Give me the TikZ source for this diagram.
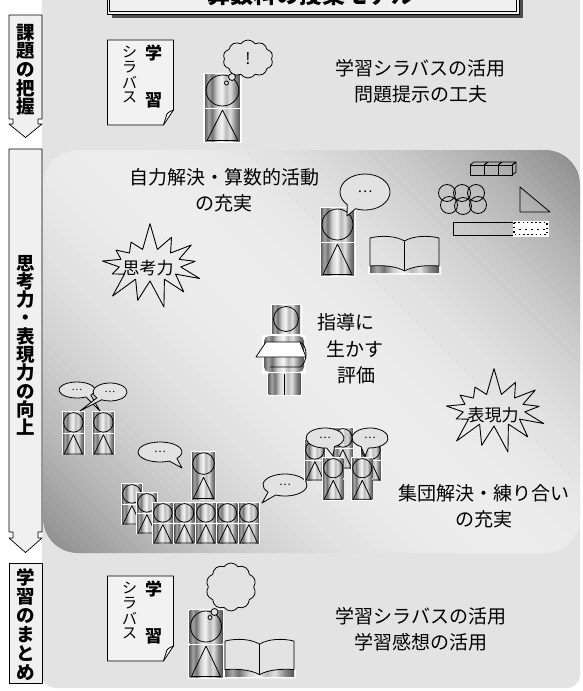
\documentclass[tikz,border=0pt]{standalone}
\usepackage{fontspec}
\newfontfamily\jp{Noto Sans CJK JP}
\usetikzlibrary{shapes.symbols,calc}

\definecolor{panel}{HTML}{E3E3E3}
\definecolor{boxfill}{HTML}{F0F0F0}
\definecolor{bubblefill}{HTML}{E2E2E2}

% metallic vertical stripes used for the figures
\pgfdeclarehorizontalshading{metal}{100bp}{color(0bp)=(black!62); color(25bp)=(black!62); color(30bp)=(black!35); color(35bp)=(black!55); color(42bp)=(black!18); color(49bp)=(black!4); color(55bp)=(black!28); color(61bp)=(black!12); color(68bp)=(black!45); color(75bp)=(black!68); color(100bp)=(black!68)}

\tikzset{
  ln/.style={line width=0.8pt},
  vch/.style={font=\jp\bfseries\fontsize{18.5}{18.5}\selectfont, inner sep=0, text height=15pt, text depth=1pt},
  dsmall/.style={font=\jp\fontsize{15}{15}\selectfont, inner sep=0},
  dbig/.style={font=\jp\bfseries\fontsize{17}{17}\selectfont, inner sep=0},
  lbl/.style={font=\jp\fontsize{19}{26}\selectfont, align=center, inner sep=0},
  burst/.style={starburst, starburst points=13, starburst point height=28pt, random starburst=7, draw, line width=0.9pt, inner sep=0pt},
  burstlbl/.style={font=\jp\fontsize{17}{17}\selectfont, inner sep=0},
  thought/.style={cloud, cloud puffs=10, cloud puff arc=110, aspect=1.3, draw, line width=0.8pt, fill=panel, inner sep=0},
  bub/.style={draw, line width=0.8pt, fill=bubblefill},
  arrowbox/.style={draw, line width=0.7pt, fill=boxfill},
  student/.pic={
    \fill[white] (-1.5,-1.5) rectangle (34.5,69);
    \shade[shading=metal] (0,0) rectangle (33,33);
    \shade[shading=metal] (0,35) rectangle (33,67.5);
    \draw[ln] (16.5,16.5) circle[radius=15.5];
    \draw[ln] (16.5,36) -- (2,66.5) -- (31,66.5) -- cycle;
  },
  teacher/.pic={
    \fill[white] (14.5,-1.5) rectangle (45.5,29.5);
    \shade[shading=metal] (16,0) rectangle (44,28);
    \draw[ln] (30,14) circle[radius=12.5];
    \fill[white] (6,29.5) rectangle (50,68.5);
    \shade[shading=metal, rounded corners=5] (8,31) rectangle (48,67);
    \draw[ln, fill=white] (0,52) -- (10,37) -- (44,37) -- (50,52) -- cycle;
    \draw[ln] (44,37) .. controls (52,40) and (52,58) .. (44,62) -- (14,62);
    \fill[white] (11,67) rectangle (46,91);
    \shade[shading=metal] (12.5,68.5) rectangle (44.5,89.5);
    \draw[ln] (28.5,68.5) -- (28.5,89.5);
  },
  book/.pic={
    \fill[white] (-2,31) -- (0,31) .. controls (12,30) and (26,31) .. (34.5,36)
      .. controls (43,31) and (57,30) .. (69,31) -- (71,31) -- (71,39.5) -- (-2,39.5) -- cycle;
    \shade[shading=metal] (0,31) .. controls (12,30) and (26,31) .. (34.5,36)
      .. controls (43,31) and (57,30) .. (69,31) -- (69,38) -- (0,38) -- cycle;
    \draw[ln] (0,3) .. controls (12,0) and (26,1) .. (34.5,6) .. controls (43,1) and (57,0) .. (69,3)
      -- (69,31) .. controls (57,30) and (43,31) .. (34.5,36) .. controls (26,31) and (12,30) .. (0,31) -- cycle;
    \draw[ln] (34.5,6) -- (34.5,36);
  },
  doc/.pic={
    \draw[ln, fill=white!55!panel] (0,0) -- (66,0) -- (66,70) -- (56,85) -- (0,85) -- cycle;
    \draw[ln] (66,70) .. controls (61,72) and (59,73) .. (58.5,77) -- (56,85);
    \node[dsmall] (-k1) at (22,12) {シ};
    \node[dsmall] (-k2) at (22,27) {ラ};
    \node[dsmall] (-k3) at (22,42) {バ};
    \node[dsmall] (-k4) at (22,57) {ス};
    \node[dbig] (-g1) at (46,13) {学};
    \node[dbig] (-g2) at (46,60) {習};
  }
}

% speech bubble: centre x, y, radii x, y, tail gap angles a1 < a2, tail tip x, y, dot size
\newcommand{\sbubble}[9]{%
  \draw[bub] ($(#1,#2)+(#6:#3 and #4)$) arc[start angle=#6, end angle={#5+360}, x radius=#3, y radius=#4] -- (#7,#8) -- cycle;
  \node[font=\jp\fontsize{#9}{#9}\selectfont, inner sep=0] at (#1,#2) {…};
}

\begin{document}
\begin{tikzpicture}[x=1pt, y=-1pt, line join=round]
\useasboundingbox (0,0) rectangle (582,691);
\clip (0,0) rectangle (582,691);
\fill[white] (0,0) rectangle (582,691);

% background panel
\fill[panel, rounded corners=13] (42,-30) rectangle (580,688);

% activity panel: light diagonal band, darker towards top right and bottom left
\begin{scope}
  \clip[rounded corners=35] (43,150) rectangle (580,553);
  \foreach \i in {0,...,99} {
    \pgfmathsetmacro\ta{-335+6.7*\i}
    \pgfmathsetmacro\tb{\ta+7.6}
    \pgfmathsetmacro\u{(\ta+3.35)/335}
    \pgfmathsetmacro\g{7+40*\u*\u}
    \fill[black!\g]
      ({311.5+(\ta-500)/1.41421},{351.5+(-500-\ta)/1.41421}) --
      ({311.5+(\tb-500)/1.41421},{351.5+(-500-\tb)/1.41421}) --
      ({311.5+(\tb+500)/1.41421},{351.5+(500-\tb)/1.41421}) --
      ({311.5+(\ta+500)/1.41421},{351.5+(500-\ta)/1.41421}) -- cycle;
  }
\end{scope}

% title plate
\fill[black!70] (112,-10) rectangle (523,18);
\draw[line width=0.9pt, fill=boxfill] (107,-10) rectangle (519,14);
\draw[line width=0.6pt] (109.5,-10) rectangle (516.5,11.5);
\node[anchor=base, font=\jp\bfseries\fontsize{23}{23}\selectfont, inner sep=0] (title) at (311,3) {算数科の授業モデル};

% stage arrows on the left
\draw[arrowbox] (9,15) -- (42,15) -- (42,119) -- (38,119) -- (38,124) -- (42,124) -- (25.5,137.5) -- (9,124) -- (13,124) -- (13,119) -- (9,119) -- cycle;
\draw[arrowbox] (9,149) -- (42,149) -- (42,532) -- (38,532) -- (38,538) -- (42,538) -- (25.5,552.5) -- (9,538) -- (13,538) -- (13,532) -- (9,532) -- cycle;
\draw[arrowbox] (9,563) rectangle (42,683);
\foreach \c [count=\i from 0] in {課,題,の,把,握}
  \node[vch] (va\i) at (25.5,{32+18.7*\i}) {\c};
\foreach \c [count=\i from 0] in {思,考,力,・,表,現,力,の,向,上}
  \node[vch] (vb\i) at (25.5,{263+18.3*\i}) {\c};
\foreach \c [count=\i from 0] in {学,習,の,ま,と,め}
  \node[vch] (vc\i) at (25.5,{577+19*\i}) {\c};

% --- problem grasp
\pic (docA) at (107.5,40) {doc};
\pic[xscale=1.06] (stA) at (205,74) {student};
\node[thought, minimum width=50pt, minimum height=38pt, font=\jp\fontsize{16}{16}\selectfont] (thA) at (248,59) {!};
\draw[ln, fill=panel] (232,77) circle[radius=3.5];
\draw[ln, fill=panel] (226.5,83) circle[radius=2];
\node[lbl] (txA) at (420.5,81.5) {学習シラバスの活用\\問題提示の工夫};

% --- self solving
\node[lbl] (txB) at (224,190) {自力解決・算数的活動\\の充実};
\node[burst, minimum width=118pt, minimum height=88pt] (burstA) at (150,265) {};
\node[burstlbl] (burstAt) at (148,268) {思考力};
\pic (stB) at (321,208) {student};
\sbubble{365}{192}{25}{18}{112}{135}{347}{216}{14}
\pic (bookB) at (370,235) {book};

% manipulatives
\foreach \i in {0,1,2} {
  \draw[ln] ({470+14*\i},165) rectangle ++(14,10);
  \draw[ln] ({470+14*\i},165) -- ++(4,-3) -- ++(14,0) -- ++(-4,3);
}
\draw[ln] (512,165) -- (516,162) -- (516,172) -- (512,175);
\foreach \cx/\cy in {447/193, 462/193, 476/193, 449/205, 463/206, 478/205}
  \draw[ln] (\cx,\cy) circle[radius=8.5];
\draw[ln] (520,187) -- (520,212) -- (550,212) -- cycle;
\draw[ln] (453,222) rectangle (513,235);
\fill[white] (512.5,220.5) rectangle (548.5,236.5);
\draw[line width=1.6pt, dash pattern=on 1.6pt off 2.6pt] (514,222.5) rectangle (547,234.5);
\foreach \x in {519,525,...,543} \fill (\x,228.5) rectangle ++(1.8,1.8);

% --- teacher and evaluation
\pic (teach) at (256,305) {teacher};
\node[lbl] (ev1) at (346,322) {指導に};
\node[lbl] (ev2) at (354.5,349) {生かす};
\node[lbl] (ev3) at (356,375) {評価};

% --- pair talk
\pic[scale=0.63] (stC) at (63,412) {student};
\pic[scale=0.63] (stD) at (93,412) {student};
\sbubble{77}{390}{18}{8}{40}{60}{100}{411}{10}
\sbubble{110}{392}{17}{9}{120}{140}{80}{411}{10}

% --- class discussion
\sbubble{160}{452}{22}{10}{40}{65}{182}{468}{11}
\pic[scale=0.7] (stE) at (192,452) {student};
\pic[scale=0.6] (stF) at (122,484) {student};
\pic[scale=0.6] (stG) at (137,493) {student};
\foreach \i in {0,...,4}
  \pic[scale=0.6] (row\i) at ({153+21.5*\i},503) {student};
\sbubble{285}{485}{22}{11}{115}{140}{262}{503}{11}

% --- group work
\pic[scale=0.6] (stH) at (305,440) {student};
\pic[scale=0.6] (stI) at (333,428) {student};
\pic[scale=0.6] (stJ) at (361,440) {student};
\sbubble{325}{438}{19}{10}{60}{85}{333}{456}{11}
\sbubble{370}{438}{18}{10}{95}{120}{365}{456}{11}
\pic[scale=0.62] (stK) at (323,458) {student};
\pic[scale=0.62] (stL) at (352,458) {student};
\node[burst, minimum width=118pt, minimum height=88pt] (burstB) at (494,410) {};
\node[burstlbl] (burstBt) at (493,415) {表現力};
\node[lbl] (txC) at (484,506.5) {集団解決・練り合い\\の充実};

% --- summary
\pic (docB) at (107.5,576) {doc};
\pic (stM) at (189.5,610) {student};
\node[thought, minimum width=50pt, minimum height=48pt] (thB) at (231,587) {};
\draw[ln, fill=panel] (214.5,612) circle[radius=3.5];
\draw[ln, fill=panel] (210,617.5) circle[radius=2];
\pic[yscale=1.02] (bookM) at (225,638) {book};
\node[lbl] (txD) at (421,629) {学習シラバスの活用\\学習感想の活用};
\end{tikzpicture}
\end{document}
